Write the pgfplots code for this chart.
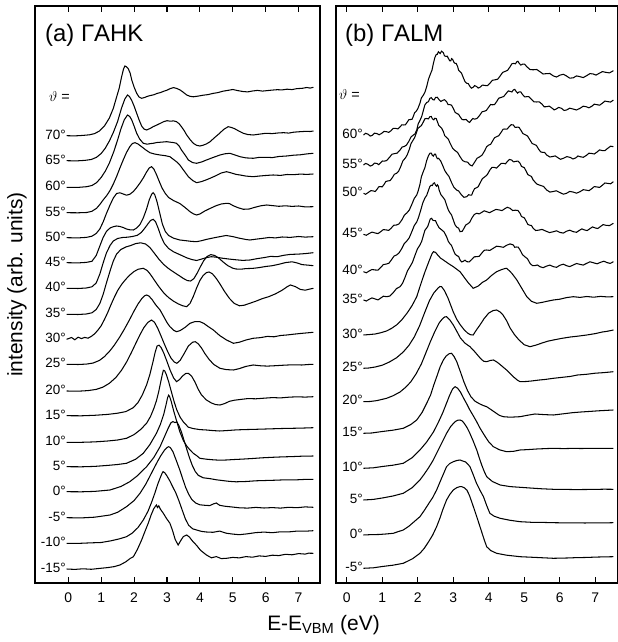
\documentclass[border=0pt]{standalone}
\usepackage{fontspec}
\setmainfont{Liberation Sans}
\usepackage{pgfplots}
\pgfplotsset{compat=1.18}
\pgfplotsset{
  panel/.style={
    scale only axis, anchor=south west,
    height=577bp, ymin=-583, ymax=-6,
    y filter/.expression={-y},
    ytick=\empty, xtick={0,...,7},
    tick align=inside, major tick length=6bp,
    xticklabel pos=lower,
    tick style={line width=1.1bp, black},
    axis line style={line width=1.2bp},
    xticklabel style={font=\fontsize{14}{16}\selectfont, anchor=base, yshift=-20bp},
    /pgf/number format/assume math mode=true,
    cycle list={{black,mark=none}},
    every axis plot post/.append style={black, mark=none, line width=1.05bp},
    clip=false,
  },
}
\tikzset{lab/.style={anchor=base east, inner sep=0pt, font=\fontsize{13.5}{15}\selectfont}}
\begin{document}
\begin{tikzpicture}
\useasboundingbox (0bp,0bp) rectangle (618bp,642bp);
% ---------------- left panel ----------------
\begin{axis}[panel, at={(35bp,59bp)}, width=285bp, xmin=-1.01, xmax=7.65]
% 70
\addplot coordinates {(-0.05,135.7) (0.2,135.9) (0.45,135.4) (0.65,134.8) (0.8,133.6) (0.95,131) (1.1,126) (1.25,118) (1.37,108.3) (1.47,97) (1.55,88) (1.62,77) (1.68,69) (1.72,66) (1.77,66.8) (1.82,68.5) (1.88,73) (1.93,80) (2.0,87) (2.08,93.3) (2.15,97) (2.23,98.3) (2.32,97.5) (2.4,96.4) (2.5,95.5) (2.6,94.8) (2.7,93.4) (2.8,92.6) (2.9,91.3) (3.0,90.2) (3.1,88.6) (3.2,87.6) (3.3,88.5) (3.4,90) (3.5,92.4) (3.6,95) (3.7,96.3) (3.8,96.8) (3.95,96.1) (4.1,95.2) (4.25,94.6) (4.4,93.4) (4.55,92.6) (4.7,91.2) (4.85,90.4) (5.0,89.5) (5.15,90.6) (5.3,91.5) (5.45,91.9) (5.6,91.0) (5.75,90.4) (5.9,91.1) (6.05,90.6) (6.2,90.1) (6.35,89.7) (6.5,89.9) (6.65,89.2) (6.8,89.6) (6.95,88.6) (7.1,88.4) (7.25,87.5) (7.35,88.1) (7.45,87.3)};
% 65
\addplot coordinates {(-0.05,160.7) (0.25,160.9) (0.5,160.4) (0.7,159.5) (0.86,157.3) (1.0,153.5) (1.12,148.5) (1.25,141) (1.37,132.5) (1.5,121.5) (1.62,108) (1.72,99) (1.8,95) (1.86,96.5) (1.93,100.5) (2.0,106) (2.08,113.3) (2.16,120.5) (2.23,126) (2.3,129) (2.38,130) (2.48,128.6) (2.58,126.7) (2.68,125.2) (2.8,123.3) (2.9,121.7) (3.0,120.7) (3.1,121.2) (3.2,120.9) (3.29,121.7) (3.37,123.8) (3.44,126.7) (3.52,130.5) (3.6,135) (3.7,139.5) (3.8,143.3) (3.9,145.3) (4.0,146) (4.1,145.2) (4.2,143.9) (4.31,141.7) (4.45,137.5) (4.6,133.3) (4.72,129.5) (4.86,126.7) (4.95,127.4) (5.05,128.6) (5.18,131) (5.32,133.3) (5.45,134.5) (5.62,135) (5.8,134.2) (6.0,133.3) (6.2,133.6) (6.4,132.9) (6.55,132.7) (6.7,133.1) (6.85,132.2) (7.04,131.7) (7.2,131.4) (7.35,131.5) (7.45,131)};
% 60
\addplot coordinates {(-0.05,187.3) (0.3,187.4) (0.56,186.7) (0.72,185.5) (0.86,182.7) (1.0,177.5) (1.12,171.5) (1.25,163) (1.38,152) (1.5,140) (1.6,129) (1.7,120) (1.8,115) (1.87,116.5) (1.93,120) (2.0,126) (2.08,133.3) (2.17,139) (2.28,143.3) (2.4,144.2) (2.5,143.6) (2.58,143.3) (2.7,142.5) (2.85,142.1) (2.99,141.7) (3.1,142.2) (3.2,142.6) (3.29,143.3) (3.37,146) (3.44,150) (3.55,155) (3.65,160) (3.78,162.6) (3.9,163.3) (4.05,162) (4.2,160) (4.4,157.5) (4.61,155) (4.76,153.8) (4.91,153.3) (5.05,154.8) (5.22,156.7) (5.4,157.9) (5.62,158.3) (5.8,157.4) (6.03,157.3) (6.2,157.6) (6.4,156.5) (6.64,156) (6.85,155.2) (7.05,154.8) (7.25,153.9) (7.45,153.3)};
% 55
\addplot coordinates {(-0.05,212.7) (0.3,212.8) (0.56,212.5) (0.72,211.3) (0.86,208.3) (0.96,204.5) (1.06,200) (1.17,195.5) (1.27,190.5) (1.37,184) (1.47,176.5) (1.57,168) (1.67,160) (1.77,152.5) (1.87,146.7) (1.95,143.5) (2.03,142.7) (2.12,144) (2.23,146.7) (2.35,149.8) (2.48,152.7) (2.62,154) (2.79,155) (2.95,155.7) (3.09,156.7) (3.2,159.5) (3.3,162) (3.39,165) (3.5,170) (3.65,176.7) (3.78,180.5) (3.9,182.7) (4.05,181.6) (4.2,179.8) (4.31,178.3) (4.5,175.5) (4.65,173) (4.81,171.7) (4.95,172.9) (5.1,174.4) (5.22,175) (5.4,176.1) (5.62,176.7) (5.82,176) (6.03,175.4) (6.23,175) (6.45,175.4) (6.65,174.5) (6.84,174.7) (7.05,174.1) (7.25,174.4) (7.45,174)};
% 50
\addplot coordinates {(-0.05,237.7) (0.3,237.9) (0.55,237.4) (0.72,236.2) (0.85,233.5) (0.96,229) (1.06,222) (1.16,213.5) (1.27,205) (1.37,198) (1.47,193.5) (1.57,192.8) (1.67,194) (1.77,195.2) (1.87,194.3) (1.98,191.5) (2.08,187.5) (2.18,183) (2.28,178) (2.38,172) (2.46,168) (2.53,166.7) (2.6,169) (2.68,174.5) (2.76,181) (2.85,188) (2.95,193.5) (3.05,197.5) (3.2,200.6) (3.39,203.5) (3.55,207.5) (3.7,211.7) (3.8,213.8) (3.9,215) (4.0,214) (4.15,211) (4.3,208.6) (4.5,205.6) (4.65,204) (4.81,203.3) (4.9,203.6) (5.0,205.5) (5.15,207.6) (5.32,209.3) (5.5,209) (5.65,207.5) (5.85,205.8) (6.03,205) (6.2,205.6) (6.4,206.3) (6.6,205.8) (6.8,206.4) (7.0,206) (7.2,206.9) (7.45,206.7)};
% 45
\addplot coordinates {(-0.05,262.7) (0.3,262.9) (0.55,262.4) (0.72,261.3) (0.85,255.5) (0.96,246) (1.06,237.5) (1.16,231.5) (1.27,228) (1.37,226.7) (1.47,226) (1.57,226.5) (1.67,227.5) (1.77,229) (1.87,229.8) (1.98,230) (2.08,228) (2.18,224.5) (2.28,218) (2.38,209) (2.46,200) (2.53,194.5) (2.58,192.7) (2.63,194.8) (2.7,202) (2.78,213) (2.86,224) (2.95,231.5) (3.05,235.5) (3.2,238.2) (3.39,240) (3.6,240.8) (3.75,241.4) (3.9,241.7) (4.05,240.7) (4.2,239.4) (4.4,238) (4.6,236.7) (4.8,235.5) (5.0,236.6) (5.2,238.2) (5.4,239.5) (5.52,240) (5.7,239.2) (5.9,238.4) (6.1,237.5) (6.3,237.9) (6.5,237) (6.75,237.4) (7.0,236.5) (7.2,237.1) (7.45,236.7)};
% 40
\addplot coordinates {(-0.05,288.3) (0.3,288.5) (0.55,288.0) (0.72,286.8) (0.85,283) (0.96,274) (1.06,263) (1.16,253) (1.27,245.5) (1.37,241) (1.5,238.5) (1.65,237.5) (1.8,237.2) (1.95,236.5) (2.1,235.3) (2.22,232.5) (2.33,228) (2.43,223.5) (2.5,220.5) (2.58,219.3) (2.65,221.5) (2.73,228) (2.82,236.5) (2.92,243.5) (3.05,248.5) (3.2,251.8) (3.4,254.8) (3.6,257.8) (3.75,259.5) (3.9,260.5) (4.05,259.1) (4.2,257.6) (4.35,256.7) (4.5,257.2) (4.7,258.3) (4.9,259.1) (5.1,259.8) (5.3,260.4) (5.52,260) (5.75,258.6) (5.95,257.6) (6.15,256.4) (6.35,256.7) (6.55,255.3) (6.75,254.4) (7.0,254.1) (7.2,253.6) (7.45,252.7)};
% 35
\addplot coordinates {(-0.05,314.3) (0.3,314.5) (0.55,314.0) (0.72,312.8) (0.85,309.5) (0.96,303.5) (1.06,294.5) (1.16,283) (1.27,271) (1.37,261) (1.47,254) (1.6,249.5) (1.75,247) (1.9,245.5) (2.05,243.6) (2.2,242.8) (2.35,244) (2.48,247.5) (2.6,252.5) (2.75,259) (2.9,264.5) (3.05,268.6) (3.2,272) (3.35,275.2) (3.5,278.5) (3.62,280.6) (3.72,281) (3.82,278.5) (3.92,273) (4.02,266.5) (4.12,260.5) (4.22,256.5) (4.33,254.6) (4.45,255.5) (4.57,258) (4.7,261.8) (4.85,265.7) (5.0,268.2) (5.1,269) (5.25,269.2) (5.4,268.6) (5.6,268.4) (5.8,267.6) (6.0,266.5) (6.2,265.7) (6.4,264.3) (6.6,262.6) (6.8,261.8) (6.95,262.9) (7.1,264.6) (7.3,265.2) (7.45,265.7)};
% 30
\addplot coordinates {(-0.05,339.3) (0.1,337.5) (0.2,339.8) (0.3,337.2) (0.4,338.6) (0.5,337.4) (0.6,338.2) (0.7,336.4) (0.8,333.9) (0.9,330.2) (1.0,325.8) (1.1,319.5) (1.2,312.5) (1.3,304.6) (1.4,297.3) (1.5,290.6) (1.62,284.5) (1.75,279.2) (1.88,274.8) (2.0,271.5) (2.12,269.3) (2.28,268.3) (2.4,270.5) (2.5,274.5) (2.62,280.3) (2.75,286.5) (2.9,292.8) (3.05,297.6) (3.2,301.2) (3.35,304) (3.48,305.8) (3.6,306.7) (3.7,303.5) (3.8,296.5) (3.9,288) (4.0,280.5) (4.1,275.5) (4.2,272.6) (4.28,272) (4.38,273.8) (4.5,278.5) (4.62,284.5) (4.75,291.5) (4.9,298.5) (5.05,303.5) (5.2,305.8) (5.35,305.2) (5.5,303.5) (5.7,301.2) (5.9,298.6) (6.1,296.6) (6.3,293.8) (6.5,290.2) (6.65,286.8) (6.75,285) (6.9,286.6) (7.05,289.4) (7.2,290.2) (7.35,289) (7.45,288.3)};
% 25
\addplot coordinates {(-0.05,364.3) (0.3,364.5) (0.55,364.1) (0.75,363.1) (0.95,360.4) (1.1,356.6) (1.25,351.5) (1.4,345.2) (1.55,337.8) (1.7,329.5) (1.85,320.5) (2.0,311) (2.12,304) (2.24,298.4) (2.32,295.8) (2.38,295) (2.45,296) (2.55,299.6) (2.65,304.5) (2.79,310) (2.9,316.5) (3.0,322.5) (3.09,326.7) (3.2,330.2) (3.29,331.7) (3.4,330.6) (3.55,327.4) (3.7,323.3) (3.85,321.6) (4.0,321.7) (4.12,323.4) (4.25,326.5) (4.41,330) (4.6,335.5) (4.81,340) (5.02,343.3) (5.2,342.2) (5.4,340) (5.62,338.3) (5.85,337.6) (6.05,336.4) (6.25,336.8) (6.45,335.5) (6.64,335) (6.85,334.2) (7.05,333.5) (7.25,332.9) (7.45,332.3)};
% 20
\addplot coordinates {(-0.05,391) (0.3,391.2) (0.6,390.6) (0.85,389.4) (1.05,387.2) (1.25,383.3) (1.45,377.4) (1.62,370.2) (1.78,361.6) (1.92,352.5) (2.05,343.5) (2.18,334.7) (2.3,327.5) (2.42,322.4) (2.53,320) (2.62,322.2) (2.72,328.3) (2.82,336) (2.92,344) (3.02,351.5) (3.12,358) (3.22,362) (3.3,363.3) (3.4,360.4) (3.52,353.7) (3.65,346) (3.78,342.2) (3.86,341.7) (3.95,343.8) (4.05,348) (4.15,353.5) (4.28,359.4) (4.42,364.4) (4.61,368.3) (4.8,369.6) (5.02,370) (5.2,368.6) (5.4,366.4) (5.62,365) (5.85,365.8) (6.05,366.1) (6.3,365.7) (6.55,365.2) (6.8,364.8) (7.1,365) (7.3,364.5) (7.45,364.3)};
% 15
\addplot coordinates {(-0.05,415.7) (0.4,415.8) (0.8,415.3) (1.2,414.4) (1.5,413.2) (1.75,411.6) (1.98,407.6) (2.12,402.5) (2.25,395) (2.38,385) (2.48,374.5) (2.57,362.5) (2.64,352.4) (2.7,346) (2.76,345.2) (2.82,347.5) (2.9,352.8) (3.0,361.5) (3.1,370.5) (3.2,377.8) (3.29,381.7) (3.38,379.6) (3.48,375.8) (3.57,373.5) (3.65,373.3) (3.75,376.2) (3.85,382) (3.95,389.3) (4.05,395) (4.2,400) (4.35,403) (4.48,404.6) (4.61,405) (4.75,403.6) (4.9,401.3) (5.05,400.2) (5.25,399.4) (5.45,398.6) (5.7,398.8) (5.95,398.2) (6.2,397.6) (6.45,397.9) (6.7,397.2) (6.95,396.8) (7.2,397.1) (7.45,396.7)};
% 10
\addplot coordinates {(-0.05,442.3) (0.4,442.3) (0.8,441.9) (1.2,441) (1.5,440) (1.77,438.3) (2.0,434.6) (2.2,429.5) (2.38,423.3) (2.5,416.5) (2.6,408.5) (2.68,400.8) (2.75,391.5) (2.81,382) (2.86,374.2) (2.89,370.3) (2.93,370.8) (2.98,374.5) (3.05,381.6) (3.14,392.5) (3.22,402) (3.3,410) (3.4,417.2) (3.5,422) (3.65,427.2) (3.8,428.6) (4.0,429.6) (4.2,430) (4.4,430.6) (4.6,431) (4.85,430.5) (5.1,429.9) (5.35,429.6) (5.6,429.4) (5.9,429.1) (6.2,428.8) (6.5,428.5) (6.8,428.3) (7.1,428.1) (7.45,427.7)};
% 5
\addplot coordinates {(-0.05,466.7) (0.4,466.8) (0.8,466.4) (1.2,465.4) (1.5,464.5) (1.77,463.3) (2.05,459.2) (2.28,453.3) (2.48,444.6) (2.68,433.3) (2.8,424.4) (2.9,414.5) (2.97,405) (3.02,397.6) (3.05,395.2) (3.08,396.5) (3.13,401.5) (3.2,410.5) (3.28,419.5) (3.39,431.7) (3.5,440.7) (3.6,446) (3.7,450) (3.8,453.3) (3.9,455.6) (4.0,458.3) (4.2,459.2) (4.4,459.8) (4.6,460.2) (4.8,460) (5.0,459.6) (5.3,459.1) (5.6,458.5) (5.9,457.8) (6.2,457.3) (6.5,456.9) (6.8,456.6) (7.1,456.2) (7.45,456)};
% 0
\addplot coordinates {(-0.05,491.7) (0.4,491.8) (0.8,491.4) (1.27,490) (1.6,486.5) (1.87,481.7) (2.1,475.8) (2.38,466.7) (2.6,457.5) (2.79,446.7) (2.92,437) (3.04,428) (3.12,422.8) (3.18,421.6) (3.24,422.6) (3.3,421.9) (3.36,425.4) (3.44,432) (3.52,440.6) (3.6,449) (3.68,457.4) (3.77,465.5) (3.86,471.5) (3.95,475.3) (4.1,477.8) (4.3,478.6) (4.5,479.8) (4.7,480.6) (4.9,481.4) (5.1,481.8) (5.4,481.5) (5.7,480.8) (6.0,480.5) (6.3,480.2) (6.6,479.8) (6.9,479.9) (7.2,479.4) (7.45,479.3)};
% -5
\addplot coordinates {(-0.05,517.7) (0.4,517.9) (0.8,517.2) (1.27,515) (1.5,512.3) (1.77,506.7) (2.0,500.6) (2.18,493.3) (2.35,484.5) (2.48,476.3) (2.6,468.6) (2.72,461) (2.82,455.3) (2.92,450.4) (3.0,447.6) (3.05,446.7) (3.1,447.5) (3.18,451.6) (3.28,460.2) (3.39,470) (3.48,479) (3.57,487.6) (3.66,494.2) (3.75,499.3) (3.87,503) (4.0,504.8) (4.15,505.3) (4.3,505.6) (4.42,503.8) (4.5,503) (4.6,505.3) (4.75,506.2) (4.95,506.9) (5.2,507.8) (5.45,508.1) (5.7,507.4) (5.95,508) (6.2,507.6) (6.45,508.1) (6.7,507.3) (6.95,507.7) (7.2,506.9) (7.45,507.3)};
% -10
\addplot coordinates {(-0.05,543.3) (0.3,543.4) (0.65,542.9) (1.0,542.5) (1.3,540.8) (1.55,538.9) (1.77,536.7) (1.95,533) (2.12,527.5) (2.28,520) (2.42,511.5) (2.53,502.5) (2.63,493.3) (2.72,484.2) (2.8,477.3) (2.85,473.4) (2.88,471.7) (2.93,472.6) (3.0,476) (3.08,480.5) (3.17,486.5) (3.27,493) (3.36,500.5) (3.46,509.8) (3.56,519) (3.66,525.3) (3.78,528.8) (3.9,530) (4.05,531.4) (4.2,532) (4.4,532.3) (4.6,531.1) (4.8,533.2) (5.0,534.1) (5.2,534.7) (5.45,533.8) (5.7,532.6) (5.95,532.1) (6.2,532.7) (6.45,531.8) (6.7,531.9) (6.95,531.1) (7.2,531.2) (7.45,530.7)};
% -15
\addplot coordinates {(-0.05,569) (0.2,569.4) (0.45,568.8) (0.7,569.3) (0.95,568.4) (1.2,567.6) (1.4,566.6) (1.57,565) (1.75,561.8) (1.88,558.5) (1.98,556.7) (2.1,549.5) (2.23,540) (2.33,531.5) (2.43,523.3) (2.52,514.8) (2.6,508.6) (2.65,506.2) (2.68,505) (2.71,507.5) (2.75,505.8) (2.8,509.2) (2.89,513.3) (2.98,518.2) (3.09,523.3) (3.17,530.6) (3.25,539.5) (3.34,545) (3.42,540.5) (3.5,536.5) (3.6,535) (3.68,537) (3.77,540.8) (3.9,545.4) (4.02,550.3) (4.2,555) (4.35,557.8) (4.5,556.6) (4.65,558.6) (4.81,558.3) (5.0,557.4) (5.2,557.9) (5.4,556.6) (5.6,557.2) (5.8,555.9) (6.0,556.4) (6.2,555.2) (6.4,555.6) (6.6,554.3) (6.8,554.8) (7.0,553.6) (7.2,554.1) (7.3,553.2) (7.45,553.3)};
\end{axis}
% ---------------- right panel ----------------
\begin{axis}[panel, at={(336bp,59bp)}, width=281.5bp, xmin=-0.304, xmax=7.625]
% 60
\addplot coordinates {(0.47,135) (0.53,133.3) (0.6,134.2) (0.66,136.1) (0.72,135.3) (0.78,133.2) (0.85,133.6) (0.91,134.8) (0.98,133.4) (1.05,131.4) (1.12,131.7) (1.18,132.4) (1.25,130.6) (1.31,128.3) (1.38,128.4) (1.44,128.9) (1.5,126.9) (1.55,124.8) (1.59,125) (1.65,124.8) (1.7,122.3) (1.75,119.6) (1.8,119.5) (1.84,119.2) (1.87,116.7) (1.91,112.8) (1.95,111.5) (2.0,108.7) (2.06,103.3) (2.1,98) (2.15,95.5) (2.2,92.3) (2.25,86.7) (2.3,79.3) (2.35,74.5) (2.4,70.1) (2.44,63.3) (2.48,57.6) (2.52,54.5) (2.55,54.3) (2.58,51.7) (2.63,53.5) (2.67,51.2) (2.72,52.7) (2.75,55.8) (2.79,56.4) (2.83,56.2) (2.86,58.3) (2.9,60.8) (2.93,60.8) (2.95,58.6) (2.98,59.3) (3.02,62.5) (3.05,63.3) (3.08,63.4) (3.12,66.4) (3.15,70.3) (3.19,71.7) (3.23,73.1) (3.28,77.5) (3.33,81.7) (3.38,83.3) (3.42,83.6) (3.47,86.5) (3.51,88.2) (3.56,87.3) (3.6,85.6) (3.65,86.4) (3.7,88.1) (3.75,87.3) (3.82,85.1) (3.9,85.5) (3.96,85.7) (4.03,83.3) (4.1,80.3) (4.18,79.8) (4.25,79.2) (4.32,76) (4.39,72.4) (4.46,71.4) (4.53,70.3) (4.6,66.7) (4.65,63.8) (4.7,63.4) (4.75,63.8) (4.79,61.7) (4.82,61.3) (4.86,63.5) (4.9,65.1) (4.95,64.2) (5.01,64.2) (5.07,66.7) (5.16,69.5) (5.25,69.8) (5.35,69.5) (5.44,71.7) (5.53,74.0) (5.63,73.6) (5.72,73.5) (5.82,76) (5.91,77.0) (6.0,75.2) (6.1,74.3) (6.19,76) (6.28,78.2) (6.38,77.8) (6.47,75.9) (6.57,76.7) (6.66,77.6) (6.75,75.8) (6.85,73.6) (6.94,74) (7.02,75.1) (7.1,73.5) (7.2,71.6) (7.3,72.4) (7.4,72.9) (7.51,70.7)};
% 55
\addplot coordinates {(0.47,165) (0.53,163.4) (0.6,164.4) (0.66,166.1) (0.72,165.2) (0.78,163.1) (0.85,163.5) (0.9,164.7) (0.94,163.3) (1.0,161.0) (1.05,161.2) (1.12,160.6) (1.2,157.5) (1.27,154.3) (1.35,153.6) (1.42,153.1) (1.5,150) (1.56,147.0) (1.62,146.5) (1.68,145.1) (1.75,141.2) (1.81,136.9) (1.87,135.2) (1.92,133.9) (1.97,130) (2.01,124.0) (2.06,120.5) (2.11,116.5) (2.16,110) (2.2,104.9) (2.25,102.5) (2.3,101.7) (2.34,98.3) (2.38,97.6) (2.42,99.6) (2.46,100.0) (2.5,97.5) (2.55,97.3) (2.6,99.8) (2.65,101.5) (2.7,100.4) (2.75,99.7) (2.81,101.7) (2.85,104.5) (2.9,104.6) (2.95,105.2) (3.0,108.4) (3.05,112.3) (3.1,113.5) (3.15,114.4) (3.19,116.7) (3.25,119.6) (3.3,119.8) (3.36,119.4) (3.42,121.7) (3.46,122.4) (3.5,120.5) (3.55,118.5) (3.6,119.2) (3.67,118.4) (3.75,115) (3.81,111.8) (3.87,111.3) (3.93,110.5) (4.0,107) (4.05,104.5) (4.1,104.8) (4.16,104.6) (4.22,101.7) (4.28,98.2) (4.35,97.4) (4.42,96.5) (4.5,93) (4.55,90.9) (4.6,91.4) (4.65,92.0) (4.69,90) (4.73,89.4) (4.77,91.5) (4.81,93.1) (4.85,92) (4.9,91.9) (4.95,94.5) (5.01,96.9) (5.07,96.7) (5.13,96.7) (5.2,99.3) (5.27,101.9) (5.35,102) (5.42,101.8) (5.5,104.2) (5.56,106.8) (5.63,106.7) (5.7,106.1) (5.78,108.1) (5.84,109.9) (5.9,109) (5.97,107.4) (6.05,108.4) (6.12,110.5) (6.19,110) (6.28,108.2) (6.38,109.1) (6.47,110.0) (6.57,108.3) (6.66,106.2) (6.75,106.8) (6.82,107.8) (6.9,106.3) (6.97,104.2) (7.05,104.7) (7.12,105.2) (7.2,103.2) (7.27,101.1) (7.35,101.6) (7.43,102.1) (7.51,100)};
% 50
\addplot coordinates {(0.47,193.3) (0.53,194.3) (0.6,192.6) (0.68,190.6) (0.75,191) (0.8,191.5) (0.85,189.4) (0.9,186.8) (0.94,186.7) (1.0,186.8) (1.05,184.4) (1.1,181.5) (1.15,181) (1.22,180.6) (1.28,177.8) (1.34,174.3) (1.4,173.3) (1.46,171.2) (1.52,166.5) (1.58,160.9) (1.65,158) (1.7,155.0) (1.76,149.5) (1.81,143.5) (1.87,140) (1.91,137.7) (1.96,132.8) (2.0,128.6) (2.05,127) (2.1,125.6) (2.16,121.7) (2.2,118.8) (2.25,118.5) (2.3,118.9) (2.34,116.7) (2.38,116.5) (2.41,118.8) (2.45,119.8) (2.48,118.3) (2.52,118.6) (2.55,121.5) (2.59,125.4) (2.63,126.7) (2.67,128.1) (2.72,131.6) (2.76,135.8) (2.81,137.5) (2.86,139.1) (2.91,143.3) (2.98,148.2) (3.05,150.6) (3.12,152.4) (3.19,156.7) (3.26,160.5) (3.33,161.8) (3.4,162.1) (3.47,165) (3.53,165.9) (3.6,162.2) (3.67,158.2) (3.75,156.7) (3.81,155.1) (3.88,151) (3.94,146.7) (4.0,145) (4.05,144.4) (4.1,141.4) (4.16,137.8) (4.22,136.7) (4.28,135.7) (4.35,132.2) (4.4,129.3) (4.45,129) (4.51,129.2) (4.57,126.9) (4.63,124.7) (4.69,125) (4.74,127.4) (4.8,127.2) (4.85,127.3) (4.9,130) (4.96,133.6) (5.02,134.6) (5.09,136.0) (5.16,140) (5.22,143.5) (5.28,144.4) (5.34,145.4) (5.4,149) (5.46,151.9) (5.52,152.4) (5.57,152.4) (5.63,155) (5.72,157.0) (5.8,156.5) (5.87,155.9) (5.95,157.8) (6.02,159.3) (6.1,158.3) (6.2,156.6) (6.3,157.5) (6.37,159.0) (6.45,157.9) (6.51,156.0) (6.57,156.7) (6.66,157.3) (6.75,155.4) (6.82,153.2) (6.9,153.5) (6.97,154.0) (7.05,152) (7.12,149.9) (7.2,150.6) (7.27,150.7) (7.35,148.3) (7.43,146.2) (7.51,146.7)};
% 45
\addplot coordinates {(0.47,234.3) (0.55,235.3) (0.62,233.7) (0.71,232.1) (0.8,233) (0.88,233.6) (0.95,231.8) (1.03,229.6) (1.12,230) (1.18,230.4) (1.25,228.2) (1.32,225.3) (1.4,225) (1.47,223.9) (1.55,220) (1.62,215.3) (1.69,213) (1.76,210.1) (1.83,204.5) (1.9,198.5) (1.97,195) (2.01,191.0) (2.06,184.5) (2.1,176.9) (2.15,172) (2.2,167.6) (2.25,160.6) (2.3,155.7) (2.34,153.3) (2.38,153.1) (2.41,155.4) (2.44,156.1) (2.47,154.2) (2.5,154.1) (2.52,156.5) (2.55,158.7) (2.58,158.3) (2.64,160.6) (2.7,165.4) (2.76,170.6) (2.81,173.3) (2.88,176.6) (2.95,182.5) (3.02,187.5) (3.09,190) (3.15,191.0) (3.22,194.4) (3.3,197.3) (3.38,196.7) (3.43,194.7) (3.48,195.2) (3.52,195.0) (3.55,192) (3.6,188.6) (3.65,187.8) (3.7,186.8) (3.75,183.3) (3.82,178.6) (3.9,176.5) (3.96,174.5) (4.03,170) (4.09,167.4) (4.15,167.4) (4.22,168.1) (4.28,165.8) (4.35,163.3) (4.41,163.3) (4.47,163.8) (4.52,161.6) (4.58,159.5) (4.64,160) (4.7,161.9) (4.75,161.4) (4.82,161.1) (4.88,163.3) (4.92,166.4) (4.96,167) (5.0,167.7) (5.05,171) (5.1,174.6) (5.15,175.6) (5.2,176.5) (5.25,180) (5.35,184.0) (5.45,185.4) (5.54,186.4) (5.63,190) (5.72,192.1) (5.8,191.6) (5.9,190.8) (6.0,192.5) (6.1,194.2) (6.19,193.3) (6.28,191.4) (6.38,192.1) (6.47,193.2) (6.57,191.7) (6.66,189.7) (6.75,190.2) (6.82,190.7) (6.9,188.7) (6.97,186.6) (7.05,187) (7.12,187.4) (7.2,185.2) (7.27,183.0) (7.35,183.4) (7.43,183.8) (7.51,181.7)};
% 40
\addplot coordinates {(0.47,271.7) (0.55,272.8) (0.62,271.2) (0.71,269.5) (0.8,270) (0.88,270.1) (0.95,267.6) (1.03,264.6) (1.12,264) (1.19,263.1) (1.26,259.7) (1.33,256.1) (1.4,255) (1.47,253.0) (1.55,248.5) (1.62,243.5) (1.69,241) (1.76,237.7) (1.83,231.8) (1.9,225.6) (1.97,222) (2.02,217.5) (2.08,210.5) (2.14,203.0) (2.2,198) (2.25,195.4) (2.3,190.4) (2.34,186.5) (2.38,185.2) (2.41,185.5) (2.44,183.3) (2.47,182.9) (2.5,185.1) (2.53,186.2) (2.55,184.8) (2.58,186.2) (2.6,190) (2.65,194.6) (2.7,196.8) (2.76,199.7) (2.81,205) (2.86,210.0) (2.9,212.5) (2.95,214.9) (3.0,220) (3.05,225.0) (3.1,227.2) (3.15,228.2) (3.19,231.7) (3.25,231.3) (3.3,228.4) (3.35,225.0) (3.4,224) (3.46,222.4) (3.52,218.2) (3.59,214.5) (3.66,213.3) (3.73,213.9) (3.8,212.4) (3.87,210.8) (3.94,211.7) (4.02,212.7) (4.1,211.2) (4.2,209.4) (4.3,210) (4.37,210.6) (4.45,208.7) (4.52,207.3) (4.6,208.3) (4.67,210.5) (4.75,210.2) (4.82,210.5) (4.88,213.3) (4.92,216.5) (4.96,217.2) (5.0,217.8) (5.05,221) (5.1,224.4) (5.15,225.2) (5.2,225.5) (5.25,228.3) (5.32,230.5) (5.4,230.2) (5.5,229.4) (5.6,231) (5.71,232.6) (5.82,231.7) (5.91,230.8) (6.0,232.4) (6.1,233.1) (6.19,231.2) (6.28,230.2) (6.38,231.7) (6.47,232.3) (6.55,230.4) (6.62,228.9) (6.7,230) (6.77,230.6) (6.85,228.6) (6.92,226.9) (7.0,228) (7.07,228.5) (7.15,226.4) (7.22,224.6) (7.3,225.3) (7.4,225.6) (7.51,223.3)};
% 35
\addplot coordinates {(0.47,300) (0.55,301.0) (0.62,299.5) (0.71,297.9) (0.8,299) (0.88,299.9) (0.95,298.2) (1.03,296.2) (1.12,296.7) (1.21,296.1) (1.3,293) (1.4,288.6) (1.5,286.7) (1.57,283.3) (1.64,277.4) (1.71,270.8) (1.78,266.7) (1.85,262.3) (1.92,255.4) (1.99,248.9) (2.06,245) (2.11,241.3) (2.16,235.2) (2.2,230.3) (2.25,228) (2.28,226.4) (2.32,222.3) (2.35,219.0) (2.39,218.3) (2.42,220.2) (2.46,220.6) (2.5,220.7) (2.53,223.3) (2.6,227.8) (2.67,229.8) (2.74,231.9) (2.81,236.7) (2.86,241.4) (2.9,243.5) (2.95,245.5) (3.0,250) (3.05,254.1) (3.1,255.6) (3.15,256.5) (3.19,260) (3.24,262.0) (3.28,261.3) (3.33,260.2) (3.38,261.7) (3.45,261.9) (3.52,259.5) (3.59,256.8) (3.66,256.7) (3.73,256.3) (3.8,253.2) (3.87,250.3) (3.94,250) (4.03,250.4) (4.13,248.2) (4.22,246.2) (4.32,246.7) (4.41,247.3) (4.5,245.3) (4.6,243.9) (4.69,245) (4.73,247.3) (4.78,247) (4.83,247.2) (4.88,250) (4.95,254.7) (5.02,256.9) (5.09,258.8) (5.16,263.3) (5.23,265.7) (5.3,265.6) (5.37,265.0) (5.44,266.7) (5.53,267.7) (5.62,266.2) (5.72,265.1) (5.82,266.7) (5.91,267.3) (6.0,265.3) (6.1,264.2) (6.19,265.7) (6.28,266.6) (6.38,265) (6.47,263.5) (6.57,264.4) (6.66,265.1) (6.76,263.3) (6.85,261.8) (6.95,262.8) (7.05,263.8) (7.15,262.3) (7.24,261.2) (7.33,262.6) (7.42,263.4) (7.51,261.7)};
% 30
\addplot coordinates {(0.47,335) (0.62,334.6) (0.8,334) (0.95,332.8) (1.12,331) (1.26,328.4) (1.4,325) (1.55,319.8) (1.7,313) (1.84,305.5) (1.97,296.7) (2.08,284.5) (2.2,272) (2.32,260.8) (2.4,253.8) (2.44,251.7) (2.5,252.4) (2.56,255) (2.64,258.1) (2.72,260) (2.86,263.5) (3.0,266.7) (3.19,271.7) (3.3,277) (3.42,282.7) (3.56,288.3) (3.7,286.1) (3.82,282.4) (3.94,280) (4.08,275.4) (4.22,271.7) (4.36,269.6) (4.46,268.5) (4.5,268.3) (4.57,270.5) (4.65,273.4) (4.79,280) (4.93,288.4) (5.07,296.7) (5.2,301.3) (5.35,303.3) (5.5,302.4) (5.65,301.2) (5.82,300) (6.0,299.2) (6.19,297.6) (6.38,296.7) (6.57,297.4) (6.76,296.5) (6.95,297.2) (7.15,296.4) (7.33,296.9) (7.51,296.7)};
% 25
\addplot coordinates {(0.47,368.3) (0.62,368) (0.8,367) (1.0,365.2) (1.2,362) (1.4,357.8) (1.59,352) (1.75,345.4) (1.9,337) (2.05,325.8) (2.2,312) (2.33,300.5) (2.45,293) (2.56,288.5) (2.62,286.5) (2.67,286.7) (2.75,290.6) (2.85,298) (3.0,312) (3.1,319.5) (3.2,325) (3.3,329.5) (3.4,333) (3.48,334.7) (3.56,335) (3.65,330) (3.75,325) (3.87,318.5) (4.0,313) (4.12,310.6) (4.22,310) (4.32,312) (4.4,315) (4.5,320.6) (4.6,328) (4.72,334.5) (4.85,340) (5.0,344.8) (5.16,346.7) (5.33,345.1) (5.5,343) (5.66,341.2) (5.82,340) (6.05,338.4) (6.3,337) (6.5,336.2) (6.76,335) (7.0,333.6) (7.2,332) (7.35,331.2) (7.51,330)};
% 20
\addplot coordinates {(0.47,401.7) (0.65,401.5) (0.85,400.6) (1.12,398.3) (1.3,395.8) (1.5,392) (1.65,387.5) (1.8,382) (1.95,374) (2.1,364) (2.22,353.5) (2.35,342) (2.48,331.5) (2.6,323) (2.7,318.6) (2.76,316.9) (2.81,316.7) (2.9,319.8) (3.0,325) (3.1,331.4) (3.2,338) (3.33,343.2) (3.47,346.7) (3.6,351.6) (3.75,357.8) (3.85,361.2) (3.94,361.7) (4.04,360.5) (4.13,360) (4.22,361.8) (4.3,364) (4.4,367) (4.5,370) (4.6,373.5) (4.7,377) (4.8,380) (4.88,381.7) (5.05,381.5) (5.2,381) (5.4,380.1) (5.6,379.4) (5.82,378.3) (6.1,377.2) (6.3,376.4) (6.5,375) (6.75,374.3) (7.0,373.2) (7.25,372.6) (7.51,371.7)};
% 15
\addplot coordinates {(0.47,433.3) (0.7,433) (1.0,431.5) (1.3,430.2) (1.59,428.3) (1.8,424.6) (1.97,420) (2.12,412.5) (2.25,403.3) (2.36,395) (2.45,385) (2.55,375) (2.63,366.7) (2.72,360) (2.8,356) (2.88,353.8) (2.95,353.3) (3.02,356.4) (3.1,362) (3.2,371.8) (3.3,382) (3.4,390.5) (3.5,397) (3.62,401.4) (3.75,404) (3.85,405.6) (3.94,406.7) (4.07,409.8) (4.2,413) (4.3,415.4) (4.41,416.7) (4.6,417.2) (4.88,416.7) (5.1,415.2) (5.3,414) (5.55,414.6) (5.82,415) (6.1,413.8) (6.35,412.7) (6.6,412) (6.85,411.4) (7.1,410.8) (7.3,410.4) (7.51,410)};
% 10
\addplot coordinates {(0.47,468.3) (0.75,467.8) (1.0,466.5) (1.3,465.2) (1.59,463.3) (1.85,457.5) (2.06,450) (2.25,442) (2.44,432) (2.57,423) (2.7,413) (2.8,404) (2.9,395) (2.98,389) (3.05,386.7) (3.12,388.2) (3.2,392) (3.28,397.5) (3.38,404) (3.46,409.6) (3.55,415) (3.65,421.2) (3.75,428) (3.88,435.5) (4.0,442) (4.13,446.7) (4.3,449.8) (4.5,451.7) (4.7,451.3) (4.88,450) (5.1,449.6) (5.35,449) (5.6,448.6) (5.82,448.3) (6.1,448.6) (6.35,448.4) (6.6,448.5) (6.9,448.4) (7.2,448.3) (7.51,448.3)};
% 5
\addplot coordinates {(0.47,500) (0.75,499.4) (1.0,498) (1.3,496) (1.59,493.3) (1.85,487.5) (2.06,480) (2.18,474.2) (2.3,468) (2.42,461) (2.53,453.3) (2.67,443.4) (2.81,433.3) (2.93,426.3) (3.05,421.7) (3.12,420.3) (3.19,420) (3.25,420.9) (3.3,423) (3.38,427.2) (3.45,432) (3.56,441) (3.66,450) (3.74,458.7) (3.8,465) (3.87,471.4) (3.94,476.7) (4.1,481.5) (4.32,485) (4.6,486.6) (4.88,487.3) (5.2,488.1) (5.5,488.8) (5.82,489.3) (6.15,489.4) (6.45,489.6) (6.7,489.5) (7.0,489.4) (7.25,489.2) (7.51,489.3)};
% 0
\addplot coordinates {(0.47,535) (0.7,534.6) (0.9,534.5) (1.1,534) (1.31,533.3) (1.45,531.6) (1.59,530) (1.75,526.2) (1.9,521.6) (2.06,516.7) (2.18,510.6) (2.3,504) (2.42,497.5) (2.53,490) (2.67,478.2) (2.81,466.7) (2.9,463.5) (3.0,461.7) (3.1,460.5) (3.19,460) (3.28,461.2) (3.35,462) (3.42,464.6) (3.47,466.7) (3.56,474.6) (3.65,483) (3.75,490.2) (3.85,496.7) (3.94,505.5) (4.03,513.3) (4.15,516.2) (4.32,518.3) (4.6,520.3) (4.88,521.7) (5.2,522.3) (5.5,522.4) (5.82,522.7) (6.2,522.9) (6.5,522.8) (6.7,523) (7.0,522.8) (7.25,522.9) (7.51,522.7)};
% -5
\addplot coordinates {(0.47,568.3) (0.75,567.8) (1.0,566.5) (1.3,565.2) (1.59,563.3) (1.85,558.8) (2.06,553.3) (2.18,548.4) (2.3,542) (2.42,535) (2.53,526.7) (2.62,518.5) (2.7,510) (2.76,504.5) (2.81,500) (2.9,494.5) (3.0,490) (3.1,487.6) (3.18,486.7) (3.24,486.7) (3.31,487.8) (3.38,490) (3.45,495) (3.52,502) (3.59,509.3) (3.66,516.7) (3.73,524.3) (3.8,532) (3.87,539.7) (3.94,546.7) (4.05,550.5) (4.22,553.3) (4.5,555.2) (4.88,556.7) (5.3,557.4) (5.82,558.3) (6.2,558) (6.5,557.6) (6.7,557.5) (7.1,557) (7.51,556.7)};
\end{axis}
% ---------- angle labels (left) ----------
\node[lab, font=\fontsize{14.5}{16}\selectfont] at (70bp,540.5bp) {$\vartheta$ =};
\node[lab] at (66bp,502.7bp) {70°};
\node[lab] at (66bp,477.7bp) {65°};
\node[lab] at (66bp,451.1bp) {60°};
\node[lab] at (66bp,425.7bp) {55°};
\node[lab] at (66bp,400.7bp) {50°};
\node[lab] at (66bp,375.7bp) {45°};
\node[lab] at (66bp,350.1bp) {40°};
\node[lab] at (66bp,324.1bp) {35°};
\node[lab] at (66bp,299.1bp) {30°};
\node[lab] at (66bp,274.1bp) {25°};
\node[lab] at (66bp,247.4bp) {20°};
\node[lab] at (66bp,222.7bp) {15°};
\node[lab] at (66bp,196.1bp) {10°};
\node[lab] at (66bp,171.7bp) {5°};
\node[lab] at (66bp,146.7bp) {0°};
\node[lab] at (66bp,120.7bp) {-5°};
\node[lab] at (66bp,95.1bp) {-10°};
\node[lab] at (66bp,69.4bp) {-15°};
% ---------- angle labels (right) ----------
\node[lab, font=\fontsize{14.5}{16}\selectfont] at (360bp,542bp) {$\vartheta$ =};
\node[lab] at (363bp,503.7bp) {60°};
\node[lab] at (363bp,473.7bp) {55°};
\node[lab] at (363bp,445.4bp) {50°};
\node[lab] at (363bp,404.4bp) {45°};
\node[lab] at (363bp,367bp) {40°};
\node[lab] at (363bp,338.7bp) {35°};
\node[lab] at (363bp,303.7bp) {30°};
\node[lab] at (363bp,270.4bp) {25°};
\node[lab] at (363bp,237bp) {20°};
\node[lab] at (363bp,205.4bp) {15°};
\node[lab] at (363bp,170.4bp) {10°};
\node[lab] at (363bp,138.7bp) {5°};
\node[lab] at (363bp,103.7bp) {0°};
\node[lab] at (363bp,70.4bp) {-5°};
% titles and axis labels
\node[anchor=base west, inner sep=0pt, font=\fontsize{24}{28}\selectfont] at (45bp,600.3bp) {(a) ΓAHK};
\node[anchor=base west, inner sep=0pt, font=\fontsize{24}{28}\selectfont] at (345bp,600.3bp) {(b) ΓALM};
\node[anchor=base, inner sep=0pt, font=\fontsize{21}{25}\selectfont] at (323.5bp,12bp) {E-E\textsubscript{VBM} (eV)};
\node[anchor=base, rotate=90, inner sep=0pt, font=\fontsize{21}{25}\selectfont] at (22.3bp,357.5bp) {intensity (arb. units)};
\end{tikzpicture}
\end{document}
